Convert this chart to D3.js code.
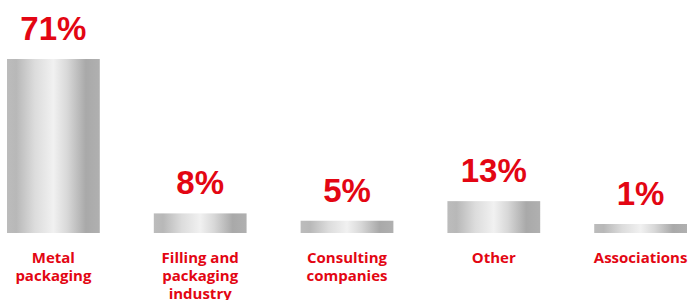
<!DOCTYPE html>
<html><head><meta charset="utf-8">
<script src="https://cdn.jsdelivr.net/npm/d3@7"></script>
<style>html,body{margin:0;padding:0;background:#fff;}</style>
</head><body>
<svg id="chart" width="692" height="300"></svg>
<script>
const categories = [["Metal","packaging"],["Filling and","packaging","industry"],["Consulting","companies"],["Other"],["Associations"]];
const values = [71, 8, 5, 13, 1];
const valueLabels = ["71%","8%","5%","13%","1%"];

const W = 692, H = 300;
const svg = d3.select("#chart");
const red = "#e30613";
const baseY = 233;

const x = d3.scaleBand().domain(d3.range(values.length)).range([7, 687]).paddingInner(0.368).paddingOuter(0);
const y = d3.scaleLinear().domain([0, 71]).range([baseY, 59]);
const minH = 9;

const defs = svg.append("defs");
const g = defs.append("linearGradient").attr("id","metal").attr("x1","0%").attr("x2","100%").attr("y1","0%").attr("y2","0%");
[[0,"#bcbcbc"],[0.1,"#b8b8b8"],[0.3,"#dcdcdc"],[0.5,"#f1f1f1"],[0.65,"#d8d8d8"],[0.85,"#a9a9a9"],[1,"#b0b0b0"]]
  .forEach(([o,c]) => g.append("stop").attr("offset", o).attr("stop-color", c));

const barTop = v => Math.min(y(v), baseY - minH);

svg.selectAll("rect.bar").data(values).join("rect")
  .attr("class","bar")
  .attr("x", (d,i) => x(i))
  .attr("width", x.bandwidth())
  .attr("y", d => barTop(d))
  .attr("height", d => baseY - barTop(d))
  .attr("fill","url(#metal)");

svg.selectAll("text.val").data(values).join("text")
  .attr("class","val")
  .attr("x", (d,i) => x(i) + x.bandwidth()/2)
  .attr("y", d => barTop(d) - 19)
  .attr("text-anchor","middle")
  .attr("fill", red)
  .style("font-family","'Liberation Sans', Arial, sans-serif")
  .style("font-weight","bold")
  .style("font-size","33px")
  .text((d,i) => valueLabels[i]);

const cat = svg.selectAll("text.cat").data(categories).join("text")
  .attr("class","cat")
  .attr("x", (d,i) => x(i) + x.bandwidth()/2)
  .attr("y", 263)
  .attr("text-anchor","middle")
  .attr("fill", red)
  .style("font-family","'Open Sans', sans-serif")
  .style("font-weight","bold")
  .style("font-size","15px");
cat.selectAll("tspan").data(d => d).join("tspan")
  .attr("x", function(){ return this.parentNode.getAttribute("x"); })
  .attr("dy", (d,j) => j === 0 ? 0 : 18)
  .text(d => d);
</script>
</body></html>
